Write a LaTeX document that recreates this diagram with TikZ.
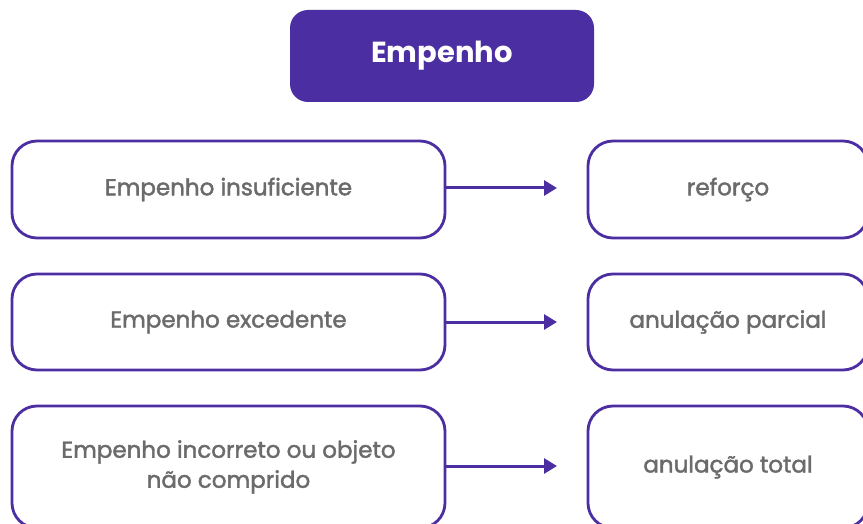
\documentclass[tikz,border=0pt]{standalone}
\usepackage{fontspec}
\setmainfont{Poppins}
\newfontfamily\medfont[FakeBold=1.8]{Poppins}
\usetikzlibrary{arrows.meta}
\definecolor{brand}{HTML}{4B2EA2}
\definecolor{txt}{HTML}{6B6B6B}
\tikzset{
  box/.style={draw=brand, line width=2.8pt, rounded corners=25pt, fill=white,
    text=txt, align=center, inner sep=0pt, font=\medfont\fontsize{23}{30}\selectfont},
  conn/.style={draw=brand, line width=3pt, -{Triangle[length=13pt,width=15pt]}},
}
\begin{document}
\begin{tikzpicture}[x=1pt,y=-1pt]
\useasboundingbox (0,0) rectangle (863,524);
\clip (0,0) rectangle (863,524);
\node[fill=brand, rounded corners=18pt, minimum width=304pt, minimum height=92pt,
  text=white, font=\fontsize{29}{33}\selectfont\bfseries] (title) at (442,56) {Empenho};
\node[box, minimum width=433pt, minimum height=97pt] (l1) at (228.5,189.5) {Empenho insuficiente};
\node[box, minimum width=433pt, minimum height=96pt] (l2) at (228.5,322) {Empenho excedente};
\node[box, minimum width=433pt, minimum height=122pt] (l3) at (228.5,467) {Empenho incorreto ou objeto\\não comprido};
\node[box, minimum width=280pt, minimum height=97pt] (r1) at (728,189.5) {reforço};
\node[box, minimum width=280pt, minimum height=96pt] (r2) at (728,322) {anulação parcial};
\node[box, minimum width=280pt, minimum height=122pt] (r3) at (728,467) {anulação total};
\coordinate (e1) at (557,188);
\coordinate (e2) at (557,322);
\coordinate (e3) at (557,466);
\draw[conn] (l1.east |- e1) -- (e1);
\draw[conn] (l2.east |- e2) -- (e2);
\draw[conn] (l3.east |- e3) -- (e3);
\end{tikzpicture}
\end{document}
